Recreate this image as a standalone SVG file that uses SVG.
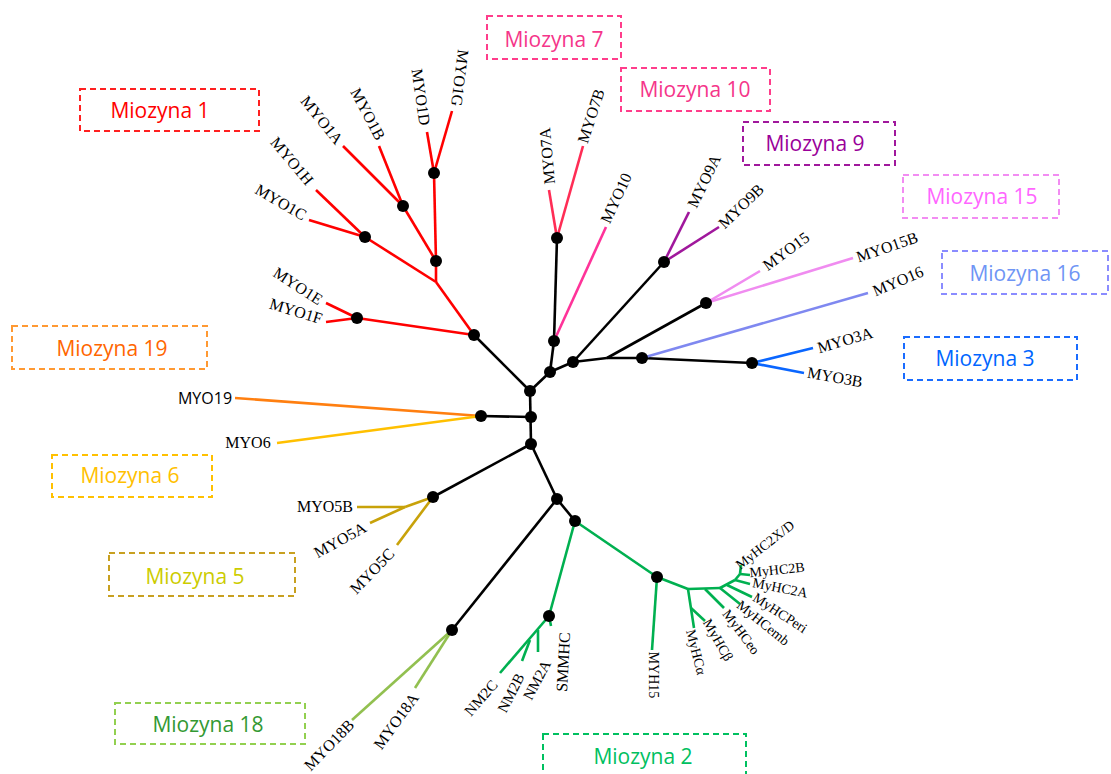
<svg xmlns="http://www.w3.org/2000/svg" width="1111" height="774" viewBox="0 0 1111 774">
<style>
.box{fill:none;stroke-width:2;stroke-dasharray:6 4}
.bt{font-family:"Open Sans","Noto Sans",sans-serif;font-size:21px;text-anchor:middle;dominant-baseline:central}
.lb{font-family:"Liberation Serif","DejaVu Serif",serif;font-size:16px;fill:#000;text-anchor:middle;dominant-baseline:central}
.sm{font-size:14px}
.nm{font-size:15px}
.br{fill:none;stroke-width:2.6;stroke-linecap:butt}
.k{stroke:#000}
.nd{fill:#000}
</style>
<rect width="1111" height="774" fill="#fff"/>
<g id="legend-boxes">
<g id="box-m7"><rect class="box" x="487" y="16" width="134" height="43" stroke="#ff3d8b"/><text class="bt" x="554" y="39" fill="#f5358a">Miozyna 7</text></g>
<g id="box-m10"><rect class="box" x="621" y="68" width="149" height="43" stroke="#ff3d8b"/><text class="bt" x="695" y="89" fill="#f5358a">Miozyna 10</text></g>
<g id="box-m1"><rect class="box" x="80" y="89" width="179" height="42" stroke="#ff2020"/><text class="bt" x="160" y="110" fill="#ff0000">Miozyna 1</text></g>
<g id="box-m9"><rect class="box" x="743" y="122" width="152" height="43" stroke="#a0189c"/><text class="bt" x="815" y="143" fill="#990099">Miozyna 9</text></g>
<g id="box-m15"><rect class="box" x="903" y="175" width="156" height="43" stroke="#f28cf2"/><text class="bt" x="982" y="196" fill="#ff66ff">Miozyna 15</text></g>
<g id="box-m16"><rect class="box" x="942" y="251" width="166" height="43" stroke="#8a8cff"/><text class="bt" x="1025" y="273" fill="#6f95f5">Miozyna 16</text></g>
<g id="box-m3"><rect class="box" x="904" y="337" width="173" height="43" stroke="#1a6cff"/><text class="bt" x="985" y="358" fill="#0066ff">Miozyna 3</text></g>
<g id="box-m19"><rect class="box" x="12" y="326" width="195" height="43" stroke="#ff9933"/><text class="bt" x="112" y="348" fill="#ff6600">Miozyna 19</text></g>
<g id="box-m6"><rect class="box" x="52" y="455" width="160" height="42" stroke="#ffc000"/><text class="bt" x="130" y="475" fill="#ffc000">Miozyna 6</text></g>
<g id="box-m5"><rect class="box" x="109" y="553" width="186" height="43" stroke="#c8a020"/><text class="bt" x="195" y="576" fill="#cccc00">Miozyna 5</text></g>
<g id="box-m18"><rect class="box" x="115" y="703" width="190" height="41" stroke="#92d050"/><text class="bt" x="208" y="724" fill="#339933">Miozyna 18</text></g>
<g id="box-m2"><rect class="box" x="543" y="734" width="203" height="50" stroke="#00c060"/><text class="bt" x="643" y="756" fill="#00c060">Miozyna 2</text></g>
</g>
<g id="connectors">
<g class="br k" stroke="#000">
<line x1="474" y1="335" x2="530" y2="391"/>
<line x1="530" y1="391" x2="531" y2="444"/>
<line x1="481" y1="416" x2="531" y2="417"/>
<line x1="530" y1="391" x2="550" y2="372"/>
<line x1="550" y1="372" x2="554" y2="341"/>
<line x1="554" y1="341" x2="557" y2="238"/>
<line x1="550" y1="372" x2="573" y2="362"/>
<line x1="573" y1="362" x2="664" y2="262"/>
<line x1="573" y1="362" x2="607" y2="358"/>
<line x1="607" y1="358" x2="706" y2="303"/>
<line x1="607" y1="358" x2="642" y2="358"/>
<line x1="642" y1="358" x2="752" y2="363"/>
<line x1="531" y1="444" x2="433" y2="497"/>
<line x1="531" y1="444" x2="557" y2="499"/>
<line x1="557" y1="499" x2="575" y2="521"/>
<line x1="557" y1="499" x2="452" y2="630"/>
</g>
<g class="br" stroke="#ff0000">
<line x1="474" y1="335" x2="436" y2="282"/>
<line x1="436" y1="282" x2="436" y2="261"/>
<line x1="436" y1="261" x2="434" y2="173"/>
<line x1="434" y1="173" x2="427" y2="132"/>
<line x1="434" y1="173" x2="452" y2="111"/>
<line x1="436" y1="261" x2="403" y2="206"/>
<line x1="403" y1="206" x2="343" y2="146"/>
<line x1="403" y1="206" x2="379" y2="146"/>
<line x1="436" y1="282" x2="365" y2="237"/>
<line x1="365" y1="237" x2="316" y2="190"/>
<line x1="365" y1="237" x2="309" y2="220"/>
<line x1="474" y1="335" x2="357" y2="318"/>
<line x1="357" y1="318" x2="326" y2="303"/>
<line x1="357" y1="318" x2="326" y2="322"/>
</g>
<g class="br" stroke="#ff2d55">
<line x1="557" y1="238" x2="549" y2="190"/>
<line x1="557" y1="238" x2="583" y2="146"/>
</g>
<line class="br" stroke="#ff3399" x1="554" y1="341" x2="606" y2="227"/>
<g class="br" stroke="#a0189c">
<line x1="664" y1="262" x2="689" y2="212"/>
<line x1="664" y1="262" x2="719" y2="227"/>
</g>
<g class="br" stroke="#f08cf0">
<line x1="706" y1="303" x2="760" y2="271"/>
<line x1="706" y1="303" x2="853" y2="258"/>
</g>
<line class="br" stroke="#7f88f0" x1="642" y1="358" x2="868" y2="293"/>
<g class="br" stroke="#0a66ff">
<line x1="752" y1="363" x2="813" y2="348"/>
<line x1="752" y1="363" x2="804" y2="373"/>
</g>
<line class="br" stroke="#ff7f10" x1="481" y1="416" x2="235" y2="398"/>
<line class="br" stroke="#ffc000" x1="481" y1="416" x2="277" y2="443"/>
<g class="br" stroke="#c8a20a">
<line x1="433" y1="497" x2="405" y2="507"/>
<line x1="405" y1="507" x2="357" y2="507"/>
<line x1="405" y1="507" x2="370" y2="523"/>
<line x1="433" y1="497" x2="397" y2="545"/>
</g>
<g class="br" stroke="#92c050">
<line x1="452" y1="630" x2="352" y2="720"/>
<line x1="452" y1="630" x2="415" y2="688"/>
</g>
<g class="br" stroke="#00b050">
<line x1="575" y1="521" x2="549" y2="616"/>
<line x1="575" y1="521" x2="657" y2="577"/>
<line x1="549" y1="616" x2="500" y2="673"/>
<line x1="538" y1="630" x2="538" y2="652"/>
<line x1="530" y1="640" x2="522" y2="661"/>
<line x1="549" y1="616" x2="551" y2="626"/>
<line x1="657" y1="577" x2="652" y2="650"/>
<line x1="657" y1="577" x2="688" y2="589"/>
<line x1="688" y1="589" x2="694" y2="628"/>
<line x1="691" y1="608" x2="705" y2="621"/>
<line x1="688" y1="589" x2="720" y2="588"/>
<line x1="705" y1="589" x2="724" y2="608"/>
<line x1="720" y1="588" x2="740" y2="604"/>
<line x1="720" y1="588" x2="735" y2="580"/>
<line x1="727" y1="585" x2="752" y2="597"/>
<line x1="735" y1="580" x2="750" y2="584"/>
<line x1="735" y1="580" x2="740" y2="574"/>
<line x1="740" y1="574" x2="750" y2="575"/>
<line x1="740" y1="574" x2="741" y2="565"/>
</g>
</g>
<g id="nodes">
<circle class="nd" cx="474" cy="335" r="6"/>
<circle class="nd" cx="436" cy="261" r="6"/>
<circle class="nd" cx="434" cy="173" r="6"/>
<circle class="nd" cx="403" cy="206" r="6"/>
<circle class="nd" cx="365" cy="237" r="6"/>
<circle class="nd" cx="357" cy="318" r="6"/>
<circle class="nd" cx="530" cy="391" r="6"/>
<circle class="nd" cx="531" cy="417" r="6"/>
<circle class="nd" cx="531" cy="444" r="6"/>
<circle class="nd" cx="481" cy="416" r="6"/>
<circle class="nd" cx="550" cy="372" r="6"/>
<circle class="nd" cx="554" cy="341" r="6"/>
<circle class="nd" cx="557" cy="238" r="6"/>
<circle class="nd" cx="573" cy="362" r="6"/>
<circle class="nd" cx="664" cy="262" r="6"/>
<circle class="nd" cx="706" cy="303" r="6"/>
<circle class="nd" cx="642" cy="358" r="6"/>
<circle class="nd" cx="752" cy="363" r="6"/>
<circle class="nd" cx="433" cy="497" r="6"/>
<circle class="nd" cx="557" cy="499" r="6"/>
<circle class="nd" cx="575" cy="521" r="6"/>
<circle class="nd" cx="452" cy="630" r="6"/>
<circle class="nd" cx="549" cy="616" r="6"/>
<circle class="nd" cx="657" cy="577" r="6"/>
</g>
<g id="leaf-labels">
<text class="lb" transform="translate(460,78) rotate(97)">MYO1G</text>
<text class="lb" transform="translate(421,97) rotate(82)">MYO1D</text>
<text class="lb" transform="translate(368,114) rotate(62)">MYO1B</text>
<text class="lb" transform="translate(322,120) rotate(51)">MYO1A</text>
<text class="lb" transform="translate(292,161) rotate(50)">MYO1H</text>
<text class="lb" transform="translate(281,202) rotate(30)">MYO1C</text>
<text class="lb" transform="translate(298,286) rotate(33)">MYO1E</text>
<text class="lb" transform="translate(296,311) rotate(17)">MYO1F</text>
<text class="lb" transform="translate(547,156) rotate(-95)">MYO7A</text>
<text class="lb" transform="translate(591,116) rotate(-72)">MYO7B</text>
<text class="lb" transform="translate(616,198) rotate(-65)">MYO10</text>
<text class="lb" transform="translate(704,181) rotate(-64)">MYO9A</text>
<text class="lb" transform="translate(741,206) rotate(-44)">MYO9B</text>
<text class="lb" transform="translate(786,251) rotate(-36)">MYO15</text>
<text class="lb" transform="translate(887,247) rotate(-19)">MYO15B</text>
<text class="lb" transform="translate(898,281) rotate(-23)">MYO16</text>
<text class="lb" transform="translate(845,340) rotate(-16)">MYO3A</text>
<text class="lb" transform="translate(835,377) rotate(10)">MYO3B</text>
<text x="205" y="398" style="font-family:'Open Sans','Noto Sans',sans-serif;font-size:16px;text-anchor:middle;dominant-baseline:central">MYO19</text>
<text class="lb" x="248" y="442">MYO6</text>
<text class="lb" x="325" y="506">MYO5B</text>
<text class="lb" transform="translate(340,540) rotate(-29)">MYO5A</text>
<text class="lb" transform="translate(372,571) rotate(-46)">MYO5C</text>
<text class="lb" transform="translate(329,745) rotate(-46)">MYO18B</text>
<text class="lb" transform="translate(396,721) rotate(-54)">MYO18A</text>
<text class="lb nm" transform="translate(481,698) rotate(-49)">NM2C</text>
<text class="lb nm" transform="translate(511,693) rotate(-63)">NM2B</text>
<text class="lb nm" transform="translate(537,680) rotate(-62)">NM2A</text>
<text class="lb" transform="translate(563,662) rotate(-87)">SMMHC</text>
<text class="lb sm" transform="translate(653,675) rotate(90)">MYH15</text>
<text class="lb sm" transform="translate(696,652) rotate(76)">MyHCα</text>
<text class="lb sm" transform="translate(718,640) rotate(60)">MyHCβ</text>
<text class="lb sm" transform="translate(741,632) rotate(53)">MyHCeo</text>
<text class="lb sm" transform="translate(763,623) rotate(39)">MyHCemb</text>
<text class="lb sm" transform="translate(780,613) rotate(33)">MyHCPeri</text>
<text class="lb sm" transform="translate(780,588) rotate(11)">MyHC2A</text>
<text class="lb sm" transform="translate(777,570) rotate(-6)">MyHC2B</text>
<text class="lb sm" transform="translate(765,545) rotate(-38)">MyHC2X/D</text>
</g>
</svg>
